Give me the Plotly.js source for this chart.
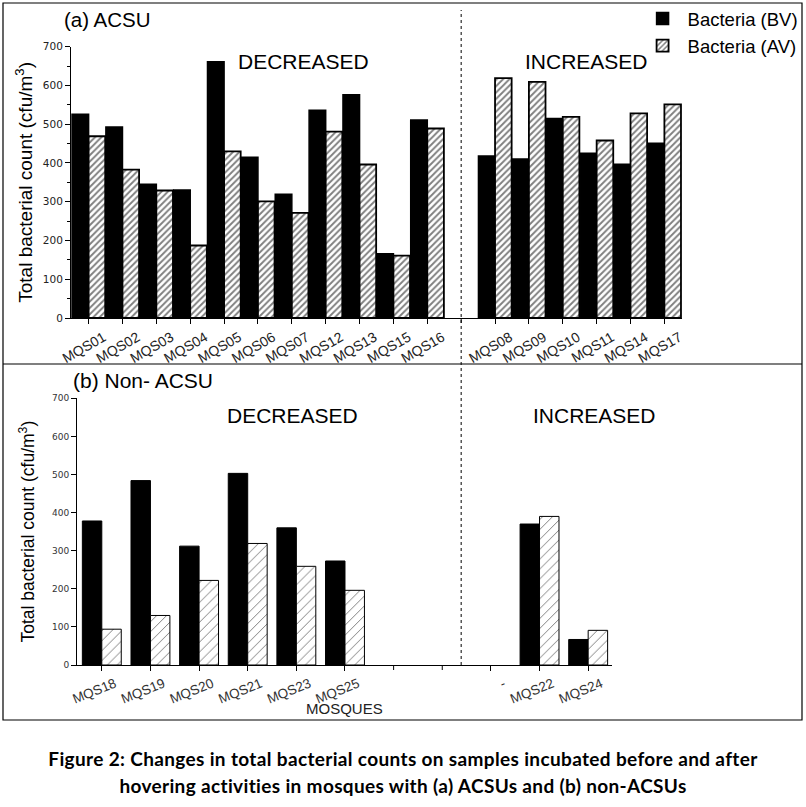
<!DOCTYPE html>
<html>
<head>
<meta charset="utf-8">
<script src="https://cdn.plot.ly/plotly-3.0.1.min.js"></script>
<style>
  html, body { margin: 0; padding: 0; background: #fff; }
  #wrap { position: relative; width: 806px; height: 807px; }
  #chart { position: absolute; left: 0; top: 0; width: 806px; height: 807px; }
  #caption { position: absolute; left: 0; top: 745px; width: 806px; text-align: center; font-family: Lato, "Open Sans", sans-serif; font-weight: bold; font-size: 19px; letter-spacing: 0.35px; line-height: 27px; color: #000; }
</style>
</head>
<body>
<div id="wrap">
<div id="chart"></div>
<div id="caption">Figure 2: Changes in total bacterial counts on samples incubated before and after<br>hovering activities in mosques with (a) ACSUs and (b) non-ACSUs</div>
</div>
<script>
// ---- Data ----
// (a) ACSU
const decA = ["MQS01","MQS02","MQS03","MQS04","MQS05","MQS06","MQS07","MQS12","MQS13","MQS15","MQS16"];
const bvDecA = [526, 493, 345, 330, 661, 415, 319, 536, 576, 166, 511];
const avDecA = [469, 383, 329, 187, 430, 301, 271, 481, 396, 161, 489];
const gapA = ["gapA1"];
const incA = ["MQS08","MQS09","MQS10","MQS11","MQS14","MQS17"];
const bvIncA = [418, 410, 515, 425, 397, 451];
const avIncA = [619, 609, 519, 458, 528, 551];
// (b) Non-ACSU
const decB = ["MQS18","MQS19","MQS20","MQS21","MQS23","MQS25"];
const bvDecB = [378, 484, 312, 503, 360, 273];
const avDecB = [94, 130, 222, 319, 259, 196];
const gapB = ["gapB1", "gapB2", "-"];
const incB = ["MQS22","MQS24"];
const bvIncB = [370, 67];
const avIncB = [390, 91];
const seriesNames = ["Bacteria (BV)", "Bacteria (AV)"];
const yTicks = [0, 100, 200, 300, 400, 500, 600, 700];

// ---- Build category arrays (gap categories carry no value) ----
const nulls = n => Array(n).fill(null);
const xA = decA.concat(gapA, incA);
const bvA = bvDecA.concat(nulls(gapA.length), bvIncA);
const avA = avDecA.concat(nulls(gapA.length), avIncA);
const xB = decB.concat(gapB, incB);
const bvB = bvDecB.concat(nulls(gapB.length), bvIncB);
const avB = avDecB.concat(nulls(gapB.length), avIncB);
// labelled ticks (blank gap categories get unlabelled tick marks)
const labelledA = xA.filter(c => !c.startsWith("gap"));
const labelledB = xB.filter(c => !c.startsWith("gap"));
const blankA = xA.filter(c => c.startsWith("gap"));
const blankB = xB.filter(c => c.startsWith("gap"));

const W = 806, H = 807;
const px = v => v / W;
const py = v => 1 - v / H;

const traces = [
  { type: "bar", name: seriesNames[0], x: xA, y: bvA, xaxis: "x", yaxis: "y",
    width: 0.49, offset: -0.49,
    marker: { color: "#000", line: { color: "#000", width: 1.5 } }, showlegend: true },
  { type: "bar", name: seriesNames[1], x: xA, y: avA, xaxis: "x", yaxis: "y",
    width: 0.49, offset: 0,
    marker: { color: "#fff", line: { color: "#000", width: 1.8 },
      pattern: { shape: "/", size: 4.5, solidity: 0.42, fgcolor: "#000", bgcolor: "#fff", fillmode: "overlay" } },
    showlegend: true },
  { type: "bar", name: seriesNames[0], x: xB, y: bvB, xaxis: "x2", yaxis: "y2",
    width: 0.40, offset: -0.40,
    marker: { color: "#000", line: { color: "#000", width: 1 } }, showlegend: false },
  { type: "bar", name: seriesNames[1], x: xB, y: avB, xaxis: "x2", yaxis: "y2",
    width: 0.40, offset: 0,
    marker: { color: "#fff", line: { color: "#000", width: 1 },
      pattern: { shape: "/", size: 7, solidity: 0.14, fgcolor: "#000", bgcolor: "#fff", fillmode: "overlay" } },
    showlegend: false }
];

const font = "Liberation Sans, Arial, sans-serif";
const ytitle = "Total bacterial count (cfu/m<sup>3</sup>)";

// unlabelled tick marks for the blank gap categories
const tickShape = (cat, xref, yAxisPx) => ({
  type: "line", xref: xref, yref: "paper", x0: cat, x1: cat, y0: py(yAxisPx), y1: py(yAxisPx + 5),
  line: { color: "#000", width: 1 }
});

const layout = {
  width: W, height: H,
  margin: { l: 0, r: 0, t: 0, b: 0, pad: 0 },
  paper_bgcolor: "#fff", plot_bgcolor: "#fff",
  font: { family: font, color: "#000" },
  barmode: "overlay",
  showlegend: true,
  legend: { x: 0.997, xanchor: "right", y: 1, yanchor: "top", bgcolor: "rgba(0,0,0,0)",
            font: { size: 18.5, family: font }, tracegroupgap: 0, itemwidth: 40 },
  xaxis: {
    domain: [px(71), px(682)], anchor: "y", type: "category",
    categoryorder: "array", categoryarray: xA, range: [-0.52, xA.length - 0.48],
    tickvals: labelledA, ticktext: labelledA,
    showline: true, linecolor: "#000", linewidth: 1, mirror: false,
    ticks: "outside", ticklen: 5, tickcolor: "#000", tickangle: -30, ticklabelshift: 15,
    tickfont: { size: 14, family: font, color: "#222" }, showgrid: false, zeroline: false, automargin: false
  },
  yaxis: {
    domain: [py(318), py(46.7)], anchor: "x", range: [0, 700],
    tickvals: yTicks, ticks: "outside", ticklen: 5, tickcolor: "#000",
    minor: { dtick: 50, ticks: "outside", ticklen: 3, tickcolor: "#000" },
    showline: true, linecolor: "#000", linewidth: 1,
    tickfont: { size: 10.5, family: "DejaVu Sans, sans-serif", color: "#222" },
    showgrid: false, zeroline: false, automargin: false,
    title: { text: ytitle, font: { size: 19, family: font }, standoff: 5 }
  },
  xaxis2: {
    domain: [px(77), px(612)], anchor: "y2", type: "category",
    categoryorder: "array", categoryarray: xB, range: [-0.51, xB.length - 0.51],
    tickvals: labelledB, ticktext: labelledB,
    showline: true, linecolor: "#000", linewidth: 1,
    ticks: "outside", ticklen: 5, tickcolor: "#000", tickangle: -22, ticklabelshift: 13,
    tickfont: { size: 13.5, family: font, color: "#333" }, showgrid: false, zeroline: false, automargin: false
  },
  yaxis2: {
    domain: [py(665), py(398.3)], anchor: "x2", range: [0, 700],
    tickvals: yTicks, ticks: "outside", ticklen: 5, tickcolor: "#000",
    showline: true, linecolor: "#000", linewidth: 1,
    tickfont: { size: 9, family: "DejaVu Sans, sans-serif", color: "#333" },
    showgrid: false, zeroline: false, automargin: false,
    title: { text: ytitle, font: { size: 17.5, family: font }, standoff: 12 }
  },
  shapes: [
    { type: "rect", xref: "paper", yref: "paper", x0: px(3), x1: px(802), y0: py(3), y1: py(720),
      line: { color: "#000", width: 1.2 }, fillcolor: "rgba(0,0,0,0)", layer: "below" },
    { type: "line", xref: "paper", yref: "paper", x0: px(3), x1: px(802), y0: py(364), y1: py(364),
      line: { color: "#000", width: 1.2 } },
    { type: "line", xref: "x", yref: "paper", x0: gapA[0], x1: gapA[0], y0: py(665), y1: py(10),
      line: { color: "#000", width: 1, dash: "dot" } }
  ].concat(blankA.map(c => tickShape(c, "x", 318)), blankB.map(c => tickShape(c, "x2", 665))),
  annotations: [
    { text: "(a) ACSU", xref: "paper", yref: "paper", x: px(62), y: py(19), xanchor: "left", yanchor: "middle",
      showarrow: false, font: { size: 20.5, family: font } },
    { text: "DECREASED", xref: "paper", yref: "paper", x: px(303), y: py(62), xanchor: "center", yanchor: "middle",
      showarrow: false, font: { size: 21, family: font } },
    { text: "INCREASED", xref: "paper", yref: "paper", x: px(586), y: py(62), xanchor: "center", yanchor: "middle",
      showarrow: false, font: { size: 21, family: font } },
    { text: "(b) Non- ACSU", xref: "paper", yref: "paper", x: px(71), y: py(380), xanchor: "left", yanchor: "middle",
      showarrow: false, font: { size: 21, family: font } },
    { text: "DECREASED", xref: "paper", yref: "paper", x: px(292), y: py(416), xanchor: "center", yanchor: "middle",
      showarrow: false, font: { size: 21, family: font } },
    { text: "INCREASED", xref: "paper", yref: "paper", x: px(594), y: py(415), xanchor: "center", yanchor: "middle",
      showarrow: false, font: { size: 21, family: font } },
    { text: "MOSQUES", xref: "paper", yref: "paper", x: px(344), y: py(708), xanchor: "center", yanchor: "middle",
      showarrow: false, font: { size: 15, family: font, color: "#222" } }
  ]
};

Plotly.newPlot("chart", traces, layout, { displayModeBar: false, staticPlot: true });
</script>
</body>
</html>
